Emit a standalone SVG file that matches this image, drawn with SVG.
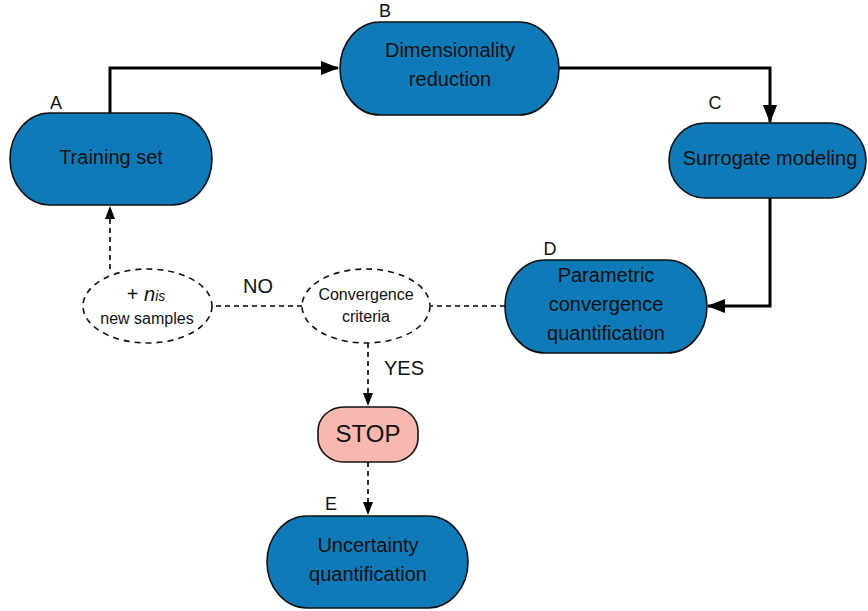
<svg xmlns="http://www.w3.org/2000/svg" width="868" height="611" viewBox="0 0 868 611">
<style>
.node{fill:#0f7ab8;stroke:#111;stroke-width:1.6}
.stop{fill:#f8b8b0;stroke:#111;stroke-width:1.6}
.dash{fill:#fff;stroke:#111;stroke-width:1.6;stroke-dasharray:6,5}
.t{font-family:"Liberation Sans",Arial,sans-serif;font-size:20px;fill:#111;text-anchor:middle}
.s{font-family:"Liberation Sans",Arial,sans-serif;font-size:16px;fill:#111;text-anchor:middle}
.lbl{font-family:"Liberation Sans",Arial,sans-serif;font-size:18px;fill:#111;text-anchor:middle}
.thick{fill:none;stroke:#000;stroke-width:3}
.thin{fill:none;stroke:#000;stroke-width:1.6;stroke-dasharray:5,4}
</style>
<defs>
<marker id="big" markerWidth="18" markerHeight="14" refX="17" refY="7" orient="auto" markerUnits="userSpaceOnUse"><path d="M0,0 L18,7 L0,14 Z" fill="#000"/></marker>
<marker id="small" markerWidth="13" markerHeight="10" refX="13" refY="5" orient="auto" markerUnits="userSpaceOnUse"><path d="M0,0 L13,5 L0,10 Z" fill="#000"/></marker>
</defs>
<g id="connectors">
<path class="thick" d="M110,113 V68 H338" marker-end="url(#big)"/>
<path class="thick" d="M559,68 H770 V122" marker-end="url(#big)"/>
<path class="thick" d="M770,198 V306 H708" marker-end="url(#big)"/>
<path class="thin" d="M505,306 H431"/>
<path class="thin" d="M302,306 H212"/>
<path class="thin" d="M110,269 V206" marker-end="url(#small)"/>
<path class="thin" d="M368,343 V406" marker-end="url(#small)"/>
<path class="thin" d="M368,462 V515" marker-end="url(#small)"/>
<text class="t" x="258" y="293">NO</text>
<text class="t" x="404" y="375">YES</text>
</g>
<g id="A">
<rect class="node" x="10" y="113" width="202" height="92" rx="40" ry="46"/>
<text class="t" x="111" y="164">Training set</text>
<text class="lbl" x="56" y="109">A</text>
</g>
<g id="B">
<rect class="node" x="340" y="22" width="219" height="93" rx="40" ry="46.5"/>
<text class="t" x="450" y="57">Dimensionality</text>
<text class="t" x="450" y="86">reduction</text>
<text class="lbl" x="385" y="17">B</text>
</g>
<g id="C">
<rect class="node" x="669" y="123" width="197" height="75" rx="36" ry="37.5"/>
<text class="t" x="770" y="165">Surrogate modeling</text>
<text class="lbl" x="715" y="109">C</text>
</g>
<g id="D">
<rect class="node" x="505" y="260" width="202" height="93" rx="40" ry="46.5"/>
<text class="t" x="606" y="282">Parametric</text>
<text class="t" x="606" y="311">convergence</text>
<text class="t" x="606" y="340">quantification</text>
<text class="lbl" x="550" y="255">D</text>
</g>
<g id="samples">
<ellipse class="dash" cx="147.5" cy="306" rx="64.5" ry="37"/>
<text class="t" x="146" y="301" style="font-size:20px">+ <tspan font-style="italic">n</tspan><tspan font-style="italic" style="font-size:14px">is</tspan></text>
<text class="s" x="147" y="324">new samples</text>
</g>
<g id="convergence">
<ellipse class="dash" cx="366" cy="306" rx="64" ry="37"/>
<text class="s" x="366" y="300">Convergence</text>
<text class="s" x="366" y="322">criteria</text>
</g>
<g id="stop">
<rect class="stop" x="318" y="407" width="100" height="55" rx="26" ry="24"/>
<text class="t" x="368" y="442" style="font-size:24px">STOP</text>
</g>
<g id="E">
<rect class="node" x="267" y="516" width="201" height="92" rx="40" ry="46"/>
<text class="t" x="368" y="552">Uncertainty</text>
<text class="t" x="368" y="581">quantification</text>
<text class="lbl" x="331" y="510">E</text>
</g>
</svg>
